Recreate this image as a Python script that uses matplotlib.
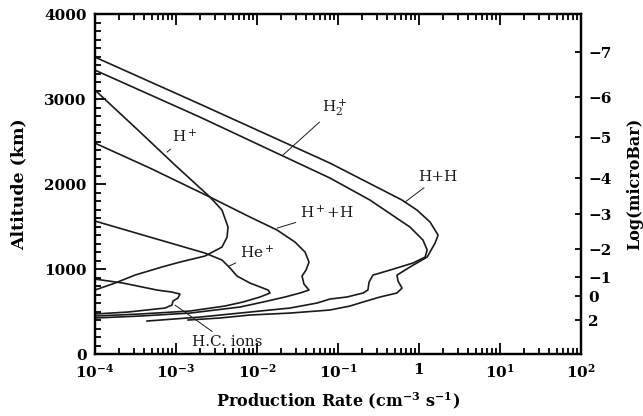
import matplotlib
matplotlib.use("Agg")
import matplotlib.pyplot as plt
from matplotlib.ticker import MultipleLocator, FixedLocator, FixedFormatter

plt.rcParams["font.family"] = "DejaVu Serif"
plt.rcParams["mathtext.fontset"] = "dejavuserif"

# production rates (cm^-3 s^-1) against altitude (km) for each ion channel
hh_rate = [1.0e-4, 1.98e-3, 7.96e-2, 0.617, 0.944, 1.37, 1.72, 1.58, 1.26, 0.774,
           0.535, 0.551, 0.617, 0.535, 0.330, 0.204, 0.141, 7.96e-2, 5.51e-2,
           2.55e-2, 8.20e-3, 3.49e-3, 1.41e-3]
hh_alt = [3494, 2941, 2247, 1812, 1694, 1553, 1400, 1306, 1141, 1024,
          929, 859, 776, 718, 671, 612, 565, 518, 506,
          482, 459, 424, 400]

h2_rate = [1.0e-4, 1.98e-3, 7.96e-2, 0.248, 0.774, 1.12, 1.26, 1.19, 0.843, 0.439,
           0.270, 0.242, 0.234, 0.204, 0.129, 7.96e-2, 5.51e-2, 2.55e-2, 8.20e-3,
           1.98e-3, 4.39e-4]
h2_alt = [3341, 2788, 2071, 1812, 1494, 1341, 1224, 1141, 1071, 988,
          929, 847, 753, 718, 671, 647, 600, 541, 494,
          435, 388]

hp_rate = [1.0e-4, 3.40e-4, 9.73e-4, 2.63e-3, 3.70e-3, 4.39e-3, 4.27e-3, 3.70e-3,
           2.28e-3, 1.12e-3, 6.71e-4, 3.12e-4, 1.77e-4, 1.0e-4]
hp_alt = [3106, 2635, 2224, 1847, 1694, 1494, 1376, 1259,
          1153, 1082, 1024, 929, 835, 753]

hph_rate = [1.0e-4, 4.78e-4, 2.63e-3, 8.20e-3, 1.77e-2, 2.94e-2, 3.92e-2, 4.39e-2,
            4.03e-2, 3.60e-2, 3.80e-2, 4.39e-2, 3.40e-2, 2.22e-2, 1.19e-2, 6.17e-3,
            1.49e-3, 3.60e-4, 1.0e-4]
hph_alt = [2482, 2188, 1847, 1612, 1459, 1318, 1200, 1082,
           988, 918, 824, 753, 718, 671, 612, 553,
           482, 447, 424]

he_rate = [1.0e-4, 4.78e-4, 2.28e-3, 3.70e-3, 4.65e-3, 5.66e-3, 8.20e-3, 1.37e-2,
           1.45e-2, 1.09e-2, 6.71e-3, 4.03e-3, 1.49e-3, 3.60e-4, 1.0e-4]
he_alt = [1565, 1376, 1188, 1106, 1012, 918, 835, 753,
          718, 671, 612, 565, 506, 471, 447]

hc_rate = [1.0e-4, 2.22e-4, 5.82e-4, 8.93e-4, 1.12e-3, 1.06e-3, 9.18e-4, 8.93e-4,
           7.31e-4, 2.55e-4, 1.0e-4]
hc_alt = [882, 835, 753, 729, 706, 659, 624, 576,
          541, 494, 471]

# pressure scale on the right: altitude of each log(microbar) level
p_alt = [3553, 3024, 2553, 2071, 1647, 1235, 906, 682, 400]
p_labels = ["\u22127", "\u22126", "\u22125", "\u22124", "\u22123", "\u22122", "\u22121", "0", "2"]

x_ticks = [1e-4, 1e-3, 1e-2, 1e-1, 1, 1e1, 1e2]
x_labels = [r"$\mathbf{10^{-4}}$", r"$\mathbf{10^{-3}}$", r"$\mathbf{10^{-2}}$",
            r"$\mathbf{10^{-1}}$", r"$\mathbf{1}$", r"$\mathbf{10^{1}}$", r"$\mathbf{10^{2}}$"]

# curve labels: text, text position, point on curve
labels = [
    ("H$^+$", (1.29e-3, 2553), (7.74e-4, 2376)),
    ("H$_2^+$", (9.18e-2, 2894), (2.09e-2, 2341)),
    ("H+H", (1.72, 2082), (0.671, 1788)),
    ("H$^+$+H", (7.31e-2, 1659), (1.77e-2, 1482)),
    ("He$^+$", (1.0e-2, 1188), (4.51e-3, 1035)),
    ("H.C. ions", (4.27e-3, 141), (9.73e-4, 576)),
]


def main():
    fig = plt.figure(figsize=(6.43, 4.16), dpi=100)
    ax = fig.add_axes([0.1477, 0.149, 0.7559, 0.817])

    lw = 1.2
    for r, a in [(hh_rate, hh_alt), (h2_rate, h2_alt), (hp_rate, hp_alt),
                 (hph_rate, hph_alt), (he_rate, he_alt), (hc_rate, hc_alt)]:
        ax.plot(r, a, color="#1a1a1a", lw=lw, solid_joinstyle="round")

    for text, txy, pxy in labels:
        ax.annotate(text, xy=pxy, xytext=txy, ha="center", va="center",
                    fontsize=11, color="#1a1a1a",
                    arrowprops=dict(arrowstyle="-", lw=0.7, color="#1a1a1a",
                                    shrinkA=1, shrinkB=0))

    ax.set_xscale("log")
    ax.set_xlim(1e-4, 1e2)
    ax.set_ylim(0, 4000)
    ax.xaxis.set_major_locator(FixedLocator(x_ticks))
    ax.xaxis.set_major_formatter(FixedFormatter(x_labels))
    ax.yaxis.set_major_locator(MultipleLocator(1000))
    ax.yaxis.set_minor_locator(MultipleLocator(100))
    ax.tick_params(which="both", direction="in", top=True, right=False, width=1.3)
    ax.tick_params(which="major", length=8, labelsize=11, pad=6)
    ax.tick_params(which="minor", length=4)
    for lab in ax.get_yticklabels():
        lab.set_fontweight("bold")

    ax.set_xlabel(r"Production Rate (cm$^{\mathbf{-3}}$ s$^{\mathbf{-1}}$)",
                  fontsize=11.5, fontweight="bold", labelpad=7)
    ax.set_ylabel("Altitude (km)", fontsize=12.5, fontweight="bold", labelpad=12)

    ax2 = ax.twinx()
    ax2.set_ylim(0, 4000)
    ax2.set_yticks(p_alt)
    ax2.set_yticklabels(p_labels, fontweight="bold", fontsize=11)
    ax2.tick_params(direction="in", length=4, width=1.3, pad=5)
    ax2.yaxis.set_minor_locator(FixedLocator([]))
    ax2.set_ylabel("Log(microBar)", fontsize=11.5, fontweight="bold", labelpad=11)

    for sp in list(ax.spines.values()) + list(ax2.spines.values()):
        sp.set_linewidth(1.6)

    fig.savefig("out.png", dpi=100)


if __name__ == "__main__":
    main()
